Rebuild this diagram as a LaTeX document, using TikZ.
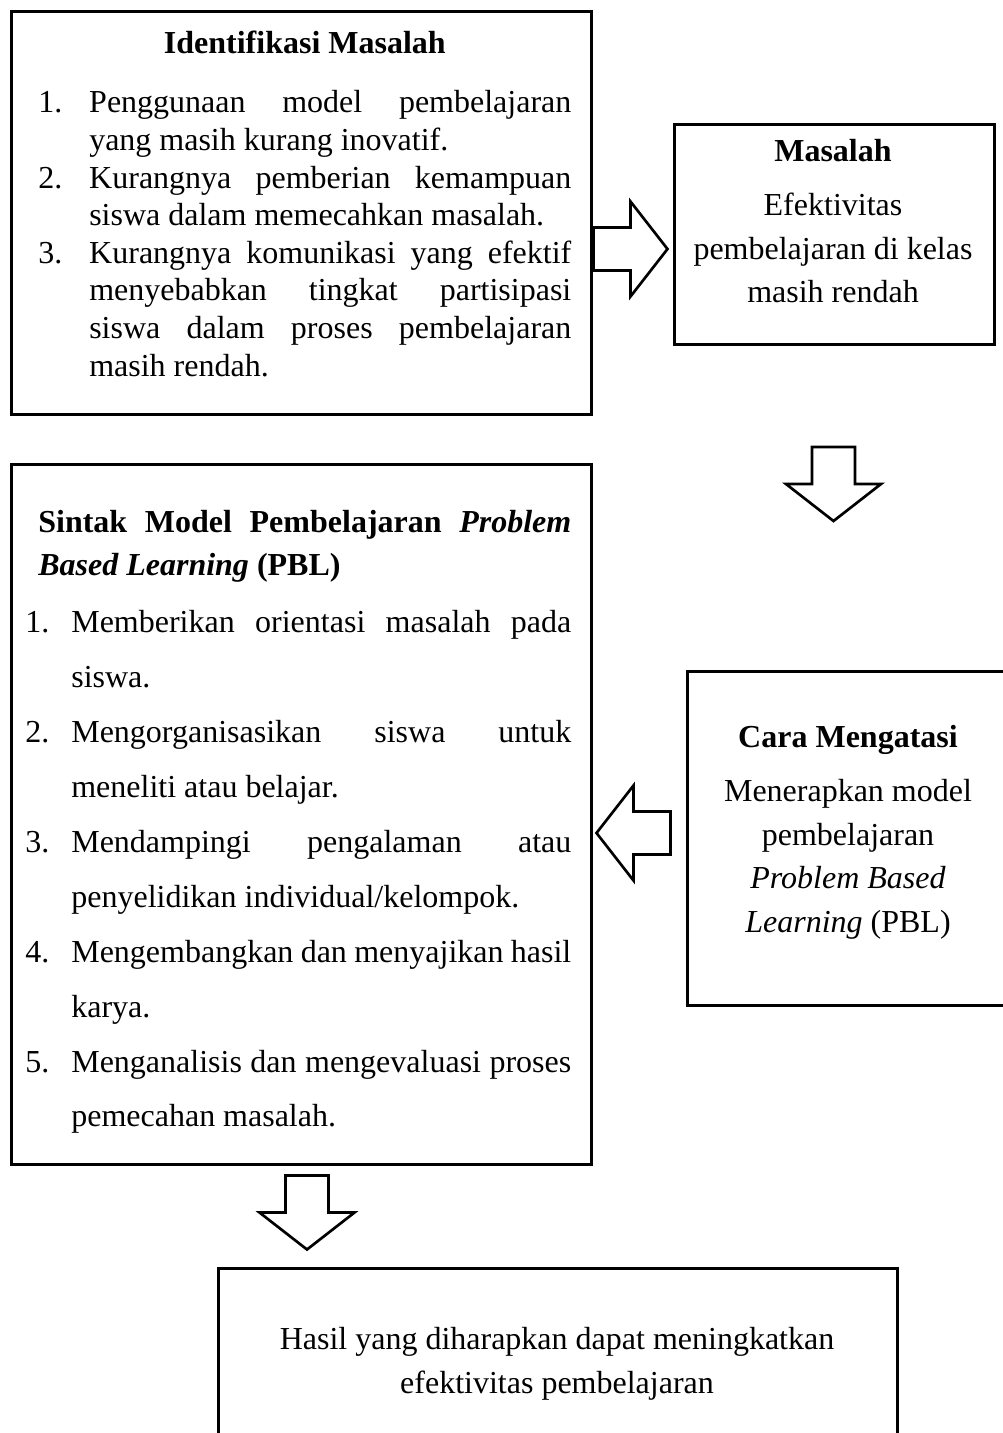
\documentclass[tikz,border=0pt]{standalone}
\usepackage{fontspec}
\setmainfont{Liberation Serif}
\newlength{\numind}
\newcommand{\numitem}[2]{\par\noindent\hangindent=\numind\hangafter=1\makebox[\numind][l]{#1}#2\par}

\begin{document}
\begin{tikzpicture}[x=0.375pt,y=-0.375pt, line width=1pt]
                \tikzstyle{box} = [draw, rectangle, inner sep=0pt, anchor=north west]
                \tikzstyle{txt} = [inner sep=0pt, font=\fontsize{12}{16.3}\selectfont]
                \tikzset{blockarrow/.pic={
                    \draw[line join=miter, fill=white] (-37,-21.5) -- (0,-21.5) -- (0,-47.5) -- (37,0)
                        -- (0,47.5) -- (0,21.5) -- (-37,21.5) -- cycle;}}

                % Page
                \useasboundingbox (0,0) rectangle (1003,1433);

                % Boxes
                \node[box, minimum width=217.5pt, minimum height=151.125pt] (ident) at (10,10) {};
                \node[box, minimum width=120pt, minimum height=82.5pt] (masalah) at (673,123) {};
                \node[box, minimum width=217.5pt, minimum height=262.5pt] (sintak) at (10,463) {};
                \node[box, minimum width=121.5pt, minimum height=125.25pt] (cara) at (686,670) {};
                \node[box, minimum width=254.625pt, minimum height=76.125pt] (hasil) at (217,1267) {};

                % Identifikasi Masalah
                \node[txt, anchor=north west, text width=199.875pt, align=justify,
                      font=\fontsize{12}{14.1}\selectfont] (identtxt) at (37,30) {%
                    {\centering\bfseries Identifikasi Masalah\par}
                    \vspace{8pt}
                    \setlength{\numind}{19.1pt}%
                    \numitem{1.}{Penggunaan model pembelajaran\linebreak yang masih kurang inovatif.}
                    \numitem{2.}{Kurangnya pemberian kemampuan\linebreak siswa dalam memecahkan masalah.}
                    \numitem{3.}{Kurangnya komunikasi yang efektif\linebreak menyebabkan tingkat partisipasi\linebreak siswa dalam proses pembelajaran\linebreak masih rendah.}};

                % Masalah
                \node[txt, anchor=north, align=center] (masalahtxt) at (833,138) {%
                    \textbf{Masalah}\\[4pt]
                    Efektivitas\\
                    pembelajaran di kelas\\
                    masih rendah};

                % Sintak PBL
                \node[txt, anchor=north west, text width=204.75pt, align=justify,
                      font=\fontsize{12}{20.6}\selectfont] (sintaktxt) at (24,509) {%
                    {\leftskip=4.875pt\baselineskip=16.1pt\bfseries Sintak Model Pembelajaran \textit{Problem}\linebreak \textit{Based Learning} (PBL)\par}
                    \vspace{0.8pt}
                    \setlength{\numind}{17.25pt}%
                    \numitem{1.}{Memberikan orientasi masalah pada\linebreak siswa.}
                    \numitem{2.}{Mengorganisasikan siswa untuk\linebreak meneliti atau belajar.}
                    \numitem{3.}{Mendampingi pengalaman atau\linebreak penyelidikan individual/kelompok.}
                    \numitem{4.}{Mengembangkan dan menyajikan hasil\linebreak karya.}
                    \numitem{5.}{Menganalisis dan mengevaluasi proses\linebreak pemecahan masalah.}};

                % Cara Mengatasi
                \node[txt, anchor=north, align=center] (caratxt) at (848,724) {%
                    \textbf{Cara Mengatasi}\\[4pt]
                    Menerapkan model\\
                    pembelajaran\\
                    \textit{Problem Based}\\
                    \textit{Learning} (PBL)};

                % Hasil
                \node[txt, anchor=north, align=center] (hasiltxt) at (557,1326) {%
                    Hasil yang diharapkan dapat meningkatkan\\
                    efektivitas pembelajaran};

                % Block arrows
                \pic at (630.5,249) {blockarrow};
                \pic[rotate=-90] at (833.5,484) {blockarrow};
                \pic[rotate=180] at (633.5,833) {blockarrow};
                \pic[rotate=-90] at (307,1212.5) {blockarrow};
            \end{tikzpicture}
\end{document}
